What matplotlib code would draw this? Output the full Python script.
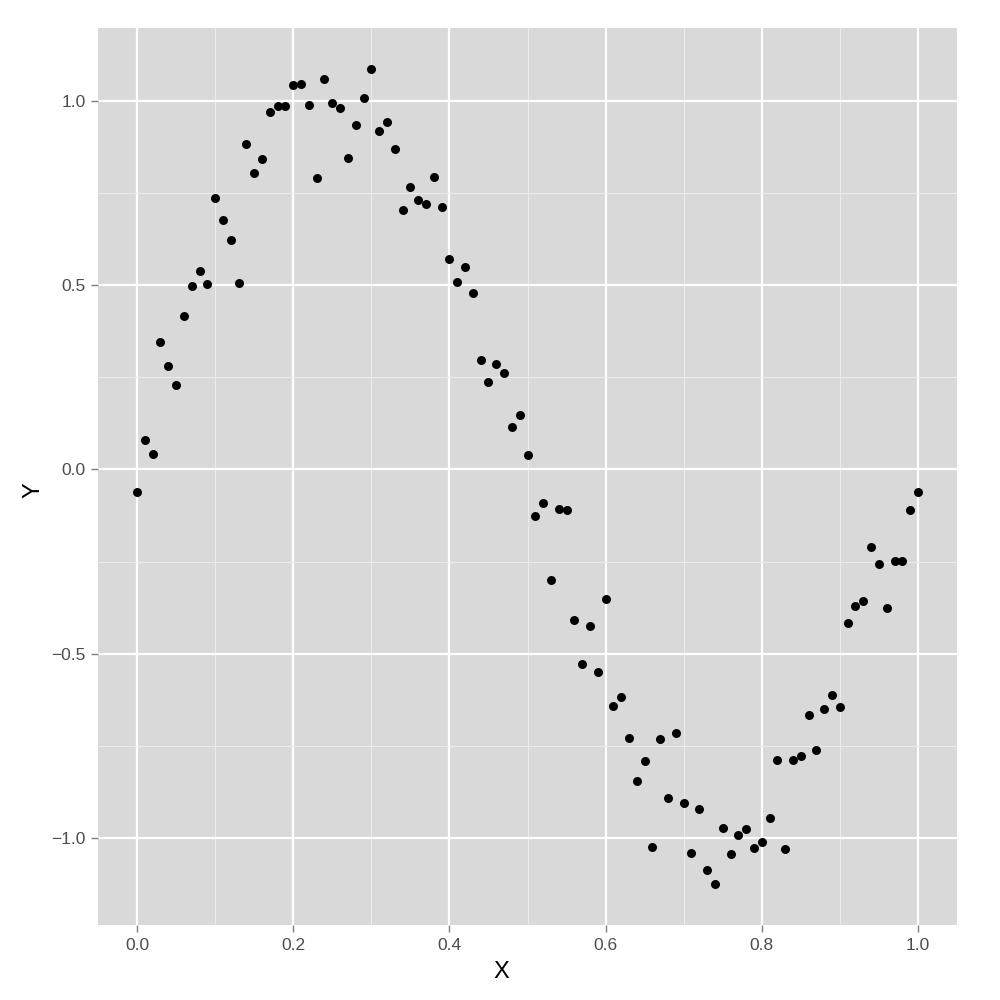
import matplotlib
matplotlib.use("Agg")
import matplotlib.pyplot as plt
import numpy as np

# x values run 0.00, 0.01, ... 1.00
x_vals = [i / 100 for i in range(101)]

# y values
y_vals = [
    -0.062, 0.081, 0.041, 0.347, 0.282, 0.228, 0.417, 0.499, 0.539, 0.504,
    0.737, 0.678, 0.623, 0.507, 0.883, 0.805, 0.843, 0.970, 0.986, 0.986,
    1.043, 1.046, 0.989, 0.791, 1.060, 0.995, 0.981, 0.846, 0.935, 1.008,
    1.087, 0.919, 0.943, 0.870, 0.705, 0.767, 0.732, 0.721, 0.794, 0.713,
    0.572, 0.509, 0.550, 0.480, 0.298, 0.238, 0.285, 0.263, 0.114, 0.149,
    0.038, -0.125, -0.092, -0.301, -0.106, -0.111, -0.407, -0.528, -0.425, -0.550,
    -0.350, -0.642, -0.618, -0.729, -0.846, -0.791, -1.024, -0.732, -0.892, -0.715,
    -0.905, -1.041, -0.921, -1.087, -1.125, -0.973, -1.043, -0.992, -0.976, -1.027,
    -1.011, -0.946, -0.789, -1.030, -0.789, -0.778, -0.667, -0.762, -0.650, -0.612,
    -0.645, -0.417, -0.369, -0.358, -0.211, -0.255, -0.377, -0.247, -0.249, -0.111,
    -0.062,
]

x_ticks = [0.0, 0.2, 0.4, 0.6, 0.8, 1.0]
x_minor = [0.1, 0.3, 0.5, 0.7, 0.9]
y_ticks = [-1.0, -0.5, 0.0, 0.5, 1.0]
y_minor = [-0.75, -0.25, 0.25, 0.75]

plt.rcParams['font.family'] = ['Liberation Sans', 'DejaVu Sans']

fig = plt.figure(figsize=(10, 10), dpi=100)
ax = fig.add_axes([0.098, 0.075, 0.859, 0.897])
ax.set_facecolor("#D9D9D9")

# ggplot-style limits with 5% padding
xr = max(x_vals) - min(x_vals)
yr = max(y_vals) - min(y_vals)
ax.set_xlim(min(x_vals) - 0.05 * xr, max(x_vals) + 0.05 * xr)
ax.set_ylim(min(y_vals) - 0.05 * yr, max(y_vals) + 0.05 * yr)

ax.set_xticks(x_ticks)
ax.set_xticks(x_minor, minor=True)
ax.set_yticks(y_ticks)
ax.set_yticks(y_minor, minor=True)
ax.set_xticklabels(["%.1f" % v for v in x_ticks])
ax.set_yticklabels(["%.1f" % v if v >= 0 else "\u2212%.1f" % abs(v) for v in y_ticks])

ax.grid(which="major", color="white", linewidth=1.6)
ax.grid(which="minor", color="#EBEBEB", linewidth=0.8)
ax.set_axisbelow(True)

for s in ax.spines.values():
    s.set_visible(False)

ax.tick_params(which="major", length=5, width=1, color="#7F7F7F",
               labelcolor="#4D4D4D", labelsize=12.5, pad=4)
ax.tick_params(which="minor", length=0)

ax.scatter(x_vals, y_vals, s=42, color="black", linewidths=0, zorder=3)

ax.set_xlabel("X", fontsize=17)
ax.set_ylabel("Y", fontsize=17)
ax.xaxis.set_label_coords(0.470, -0.040)
ax.yaxis.set_label_coords(-0.062, 0.485)

fig.savefig("out.png", dpi=100, facecolor="white")
